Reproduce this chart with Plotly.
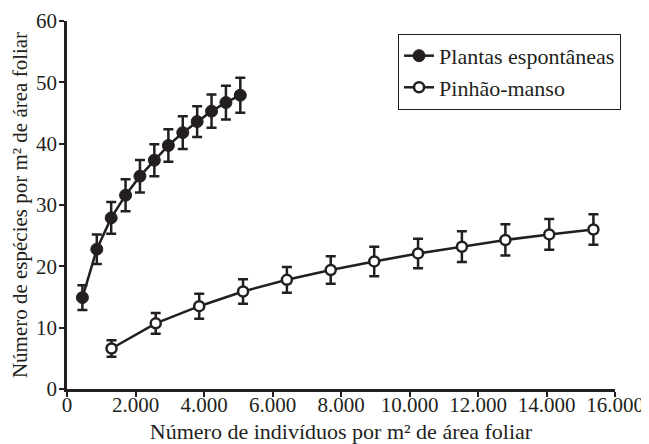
import plotly.graph_objects as go

# Data
esp_x = [450, 870, 1290, 1710, 2130, 2550, 2960, 3380, 3800, 4220, 4640, 5060]
esp_y = [14.9, 22.8, 27.9, 31.6, 34.7, 37.3, 39.7, 41.8, 43.6, 45.3, 46.7, 47.9]
esp_err = [2.0, 2.4, 2.6, 2.6, 2.65, 2.6, 2.65, 2.65, 2.5, 2.7, 2.75, 2.85]

pin_x = [1300, 2590, 3860, 5140, 6420, 7700, 8970, 10250, 11530, 12800, 14080, 15370]
pin_y = [6.6, 10.7, 13.5, 15.9, 17.8, 19.4, 20.8, 22.1, 23.2, 24.3, 25.2, 26.0]
pin_err = [1.35, 1.7, 2.05, 2.0, 2.1, 2.25, 2.4, 2.4, 2.5, 2.55, 2.5, 2.5]

x_ticks = [0, 2000, 4000, 6000, 8000, 10000, 12000, 14000, 16000]
x_ticklabels = ["0", "2.000", "4.000", "6.000", "8.000", "10.000", "12.000", "14.000", "16.000"]
y_ticks = [0, 10, 20, 30, 40, 50, 60]

INK = "#231f20"
FONT = "Liberation Serif, Times New Roman, serif"

fig = go.Figure()
fig.add_trace(go.Scatter(
    x=esp_x, y=esp_y, name="Plantas espontâneas", mode="lines+markers",
    line=dict(color=INK, width=2.5),
    marker=dict(symbol="circle", size=12, color=INK, line=dict(color=INK, width=1)),
    error_y=dict(type="data", array=esp_err, visible=True, color=INK, thickness=2.5, width=5),
))
fig.add_trace(go.Scatter(
    x=pin_x, y=pin_y, name="Pinhão-manso", mode="lines+markers",
    line=dict(color=INK, width=2.5),
    marker=dict(symbol="circle", size=10, color="white", line=dict(color=INK, width=2.5)),
    error_y=dict(type="data", array=pin_err, visible=True, color=INK, thickness=2.5, width=5),
))

# page body has an 8px default margin: figure is 8px smaller, offset by 8px
fig.update_layout(
    width=641, height=436,
    margin=dict(l=59, r=34, t=13, b=55),
    paper_bgcolor="white", plot_bgcolor="white",
    font=dict(family=FONT, color=INK, size=21),
    showlegend=True,
    legend=dict(
        x=1.011, y=0.965, xanchor="right", yanchor="top",
        bordercolor=INK, borderwidth=1, bgcolor="white",
        font=dict(family=FONT, size=22, color=INK),
        tracegroupgap=0, itemsizing="trace",
    ),
    xaxis=dict(
        range=[0, 16000], tickvals=x_ticks, ticktext=x_ticklabels, tickangle=0,
        showgrid=False, zeroline=False, showline=True, linecolor=INK, linewidth=2.5,
        ticks="outside", ticklen=5, tickwidth=2, tickcolor=INK,
        tickfont=dict(family=FONT, size=21, color=INK),
        ticklabelstandoff=-10,
        automargin=False,
        title=dict(text="Número de indivíduos por m² de área foliar",
                   font=dict(family=FONT, size=22, color=INK)),
    ),
    yaxis=dict(
        range=[0, 60], tickvals=y_ticks,
        showgrid=False, zeroline=False, showline=True, linecolor=INK, linewidth=2.5,
        ticks="outside", ticklen=5, tickwidth=2, tickcolor=INK,
        tickfont=dict(family=FONT, size=21, color=INK),
        ticklabelstandoff=-2,
        automargin=False,
        title=dict(text="Número de espécies por m² de área foliar",
                   font=dict(family=FONT, size=21, color=INK)),
    ),
)

fig.write_html("out.html")
